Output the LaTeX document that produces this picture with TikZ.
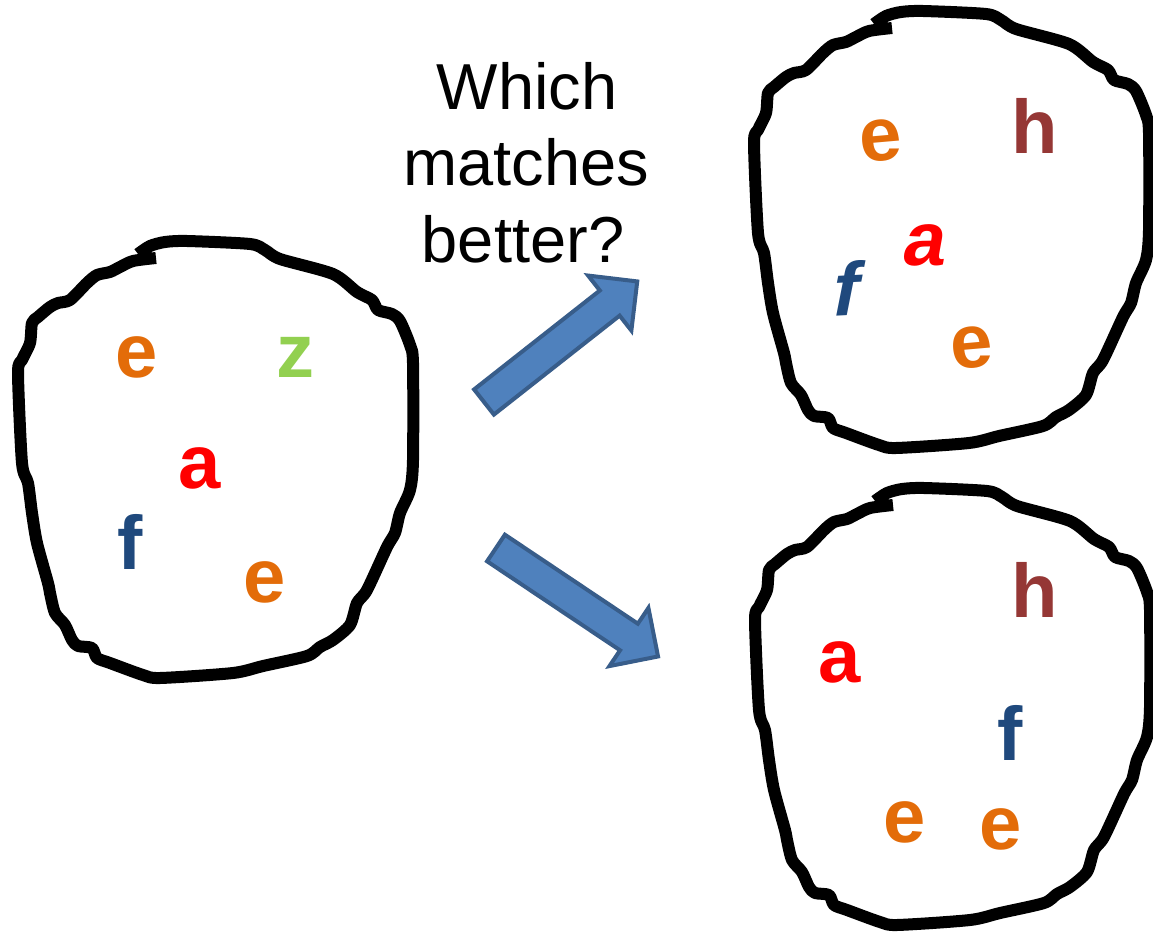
\documentclass[tikz,border=0pt]{standalone}
\usepackage{fontspec}
\setmainfont{Liberation Sans}
\usepackage{tikz}

\definecolor{letterorange}{HTML}{E36C09}
\definecolor{lettergreen}{HTML}{92D050}
\definecolor{letterred}{HTML}{FF0000}
\definecolor{letterblue}{HTML}{1F497D}
\definecolor{letterbrown}{HTML}{953735}
\definecolor{arrowfill}{HTML}{4F81BD}
\definecolor{arrowline}{HTML}{385D8A}

\begin{document}
\begin{tikzpicture}[x=1pt,y=-1pt,
  letter/.style={inner sep=0pt,font=\bfseries\fontsize{76}{76}\selectfont},
  question/.style={inner sep=0pt,anchor=base,font=\fontsize{65}{76}\selectfont},
  blob/.pic={
   \draw[line width=12pt,line join=round,line cap=butt]
    plot[smooth,tension=0.45] coordinates {
     (138,254) (150,246) (165,242) (187,241) (250,244) (265,250) (280,259)
     (333,274) (357,292) (372,300) (378,310) (392,314) (400,321) (410,345)
     (413,363) (413,460) (410,490) (400,513) (395,533) (387,547) (367,590)
     (357,603) (350,625) (333,640) (320,647) (307,656) (263,666) (233,673)
     (160,678) (143,675) (110,663) (97,658) (92,648) (78,646) (72,640)
     (65,625) (55,613) (50,593) (48,583) (37,543) (32,513) (28,483)
     (22,463) (18,373) (22,360) (30,343) (32,323) (38,317) (50,307)
     (58,303) (70,300) (87,283) (97,275) (110,272) (120,267) (133,261)
     (156,258)};},
  bigarrow/.pic={
   \draw[fill=arrowfill,draw=arrowline,line width=4pt,line join=miter]
    (0,-16) -- (160,-16) -- (160,-35) -- (195,0) -- (160,35)
    -- (160,16) -- (0,16) -- cycle;}]
 \useasboundingbox (0,0) rectangle (1153,933);

 % the three sets
 \pic at (0,0) {blob};
 \pic at (736,-230) {blob};
 \pic at (737,247) {blob};

 % query set
 \node[letter,text=letterorange] (qe1) at (137,357) {e};
 \node[letter,text=lettergreen] (qz) at (295,357) {z};
 \node[letter,text=letterred] (qa) at (200,468) {a};
 \node[letter,text=letterblue] (qf) at (130,542) {f};
 \node[letter,text=letterorange] (qe2) at (265,582) {e};

 % upper candidate
 \node[letter,text=letterorange,rotate=5] (ue1) at (881,141) {e};
 \node[letter,text=letterbrown] (uh) at (1035,126) {h};
 \node[letter,text=letterred,xslant=0.18] (ua) at (925,245) {a};
 \node[letter,text=letterblue,xslant=0.25,rotate=3] (uf) at (848,288) {f};
 \node[letter,text=letterorange,rotate=5] (ue2) at (972,348) {e};

 % lower candidate
 \node[letter,text=letterred] (la) at (840,662) {a};
 \node[letter,text=letterbrown] (lh) at (1035,590) {h};
 \node[letter,text=letterblue] (lf) at (1010,733) {f};
 \node[letter,text=letterorange] (le1) at (905,822) {e};
 \node[letter,text=letterorange] (le2) at (1001,829) {e};

 \node[question] (q1) at (527,110) {Which};
 \node[question] (q2) at (526,186) {matches};
 \node[question] (q3) at (523,262) {better?};

 \pic[rotate=38.2] at (484,402) {bigarrow};
 \pic[rotate=-33.8] at (496,548) {bigarrow};
\end{tikzpicture}
\end{document}
